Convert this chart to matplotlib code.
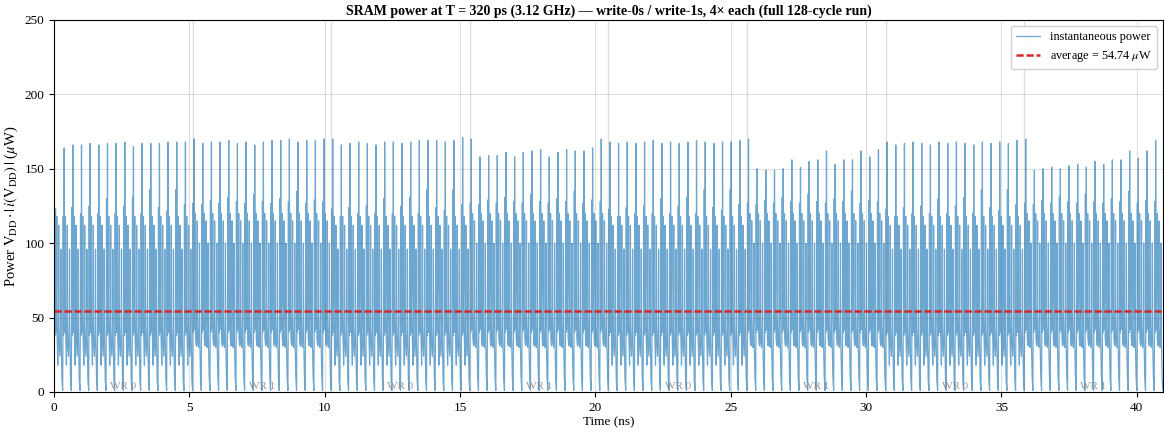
import matplotlib
matplotlib.use("Agg")
import matplotlib.pyplot as plt
import numpy as np

plt.rcParams['font.family'] = ['Liberation Serif', 'DejaVu Serif']
plt.rcParams['mathtext.fontset'] = 'stix'

# clock period and run length
period_ns = 0.32
cycles_per_phase = 16
phase_names = ['WR 0', 'WR 1', 'WR 0', 'WR 1', 'WR 0', 'WR 1', 'WR 0', 'WR 1']
avg_power = 54.74  # uW

# tall current spike of every cycle (uW), one list per 16-cycle phase
tall_ph0 = [123, 164, 166, 166, 167, 166, 167, 167, 168, 165, 167, 167, 167, 168, 168, 168]
tall_ph1 = [170, 167, 168, 168, 169, 167, 168, 166, 168, 169, 169, 170, 168, 169, 169, 170]
tall_ph2 = [170, 166, 167, 168, 167, 166, 168, 168, 167, 168, 169, 169, 169, 168, 169, 171]
tall_ph3 = [170, 158, 159, 159, 161, 158, 161, 162, 163, 158, 161, 163, 162, 162, 164, 170]
tall_ph4 = [168, 167, 168, 167, 168, 169, 167, 168, 167, 168, 169, 168, 167, 168, 168, 169]
tall_ph5 = [170, 150, 149, 149, 150, 156, 151, 155, 156, 162, 153, 156, 156, 162, 158, 163]
tall_ph6 = [168, 166, 167, 168, 167, 166, 168, 167, 168, 167, 166, 168, 167, 168, 167, 169]
tall_ph7 = [170, 149, 150, 151, 150, 152, 153, 151, 155, 153, 156, 156, 162, 157, 162, 169]
tall_peaks = [tall_ph0, tall_ph1, tall_ph2, tall_ph3, tall_ph4, tall_ph5, tall_ph6, tall_ph7]

# second spike of every cycle (uW)
mid_wr0 = [123, 118, 124, 120, 125, 120, 130, 120, 125, 131, 120, 136, 124, 122, 136, 126]
mid_wr1 = [127, 126, 129, 127, 131, 128, 127, 133, 128, 127, 130, 128, 135, 127, 129, 128]

# waveform inside one cycle: sample times (ps) and power (uW)
cycle_ps = [0, 10, 20, 30, 48, 55, 65, 95, 103, 112, 140, 165, 173, 182, 215, 245, 253, 262, 292]
shape_wr0 = [1, 42, 0, 38, 48, 0, 40, 75, 118, 40, 18, 52, 112, 36, 24, 46, 96, 42, 8]
shape_wr1 = [1, 45, 0, 40, 50, 0, 42, 70, 120, 36, 31, 55, 115, 34, 30, 50, 100, 38, 10]
MID_IDX, TALL_IDX = 2, 5

t_ns, p_uw = [], []
for ph, peaks in enumerate(tall_peaks):
    for k in range(cycles_per_phase):
        c = ph * cycles_per_phase + k
        vals = list(shape_wr0 if ph % 2 == 0 else shape_wr1)
        vals[TALL_IDX] = peaks[k]
        vals[MID_IDX] = (mid_wr0 if ph % 2 == 0 else mid_wr1)[k]
        t_ns.extend(c * period_ns + np.array(cycle_ps) / 1000.0)
        p_uw.extend(vals)
t_end = len(phase_names) * cycles_per_phase * period_ns
t_ns.append(t_end)
p_uw.append(shape_wr1[0])

fig = plt.figure(figsize=(11.64, 4.34), dpi=100)
ax = fig.add_axes([0.0464, 0.0968, 0.9526, 0.8572])

ax.plot(t_ns, p_uw, color='#1f77b4', lw=0.9, alpha=0.65, label='instantaneous power')
ax.axhline(avg_power, color='#d62728', ls='--', lw=1.8, dashes=(2.9, 1.1),
           label=f'average = {avg_power:.2f} $\\mu$W')

# phase boundaries and labels
phase_len = cycles_per_phase * period_ns
for i, name in enumerate(phase_names):
    if i > 0:
        ax.axvline(i * phase_len, color='grey', lw=1.0, alpha=0.25)
    ax.text((i + 0.5) * phase_len, 0.5, name, ha='center', va='bottom',
            fontsize=8, color='grey', alpha=0.8)

ax.set_xlim(0, t_end)
ax.set_ylim(0, 250)
ax.set_xticks(np.arange(0, 41, 5))
ax.set_yticks(np.arange(0, 251, 50))
ax.grid(True, color='grey', alpha=0.25, lw=0.8)
ax.tick_params(labelsize=9.5)

ax.set_xlabel('Time (ns)', fontsize=9.5, labelpad=2)
ax.set_ylabel(r'Power $\mathrm{V_{DD}}\cdot|\,i(\mathrm{V_{DD}})\,|$ ($\mu$W)', fontsize=10.5, labelpad=3)
ax.set_title('SRAM power at T = 320 ps (3.12 GHz) — write-0s / write-1s, 4× each (full 128-cycle run)',
             fontsize=10, fontweight='bold', pad=4)
ax.legend(loc='upper right', fontsize=8.8, framealpha=0.9)

fig.savefig('out.png', dpi=100)
